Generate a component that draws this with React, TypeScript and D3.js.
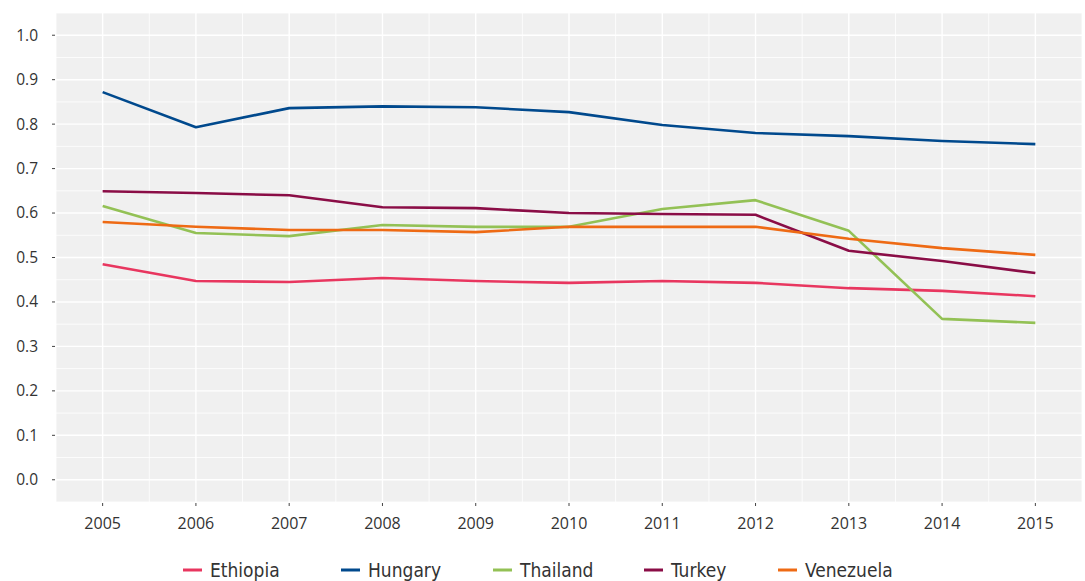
import * as d3 from "d3";
import React from "react";

const years = [2005, 2006, 2007, 2008, 2009, 2010, 2011, 2012, 2013, 2014, 2015];
const countries = ["Ethiopia", "Hungary", "Thailand", "Turkey", "Venezuela"];
const colors = ["#e8365f", "#00498d", "#93c155", "#8a0d46", "#ee6a14"];

const ethiopia = [0.485, 0.447, 0.445, 0.454, 0.447, 0.443, 0.447, 0.443, 0.431, 0.425, 0.413];
const hungary = [0.872, 0.793, 0.836, 0.84, 0.838, 0.827, 0.798, 0.78, 0.773, 0.762, 0.755];
const thailand = [0.616, 0.555, 0.548, 0.573, 0.569, 0.569, 0.609, 0.629, 0.56, 0.362, 0.353];
const turkey = [0.649, 0.645, 0.64, 0.613, 0.611, 0.6, 0.598, 0.596, 0.515, 0.492, 0.465];
const venezuela = [0.58, 0.569, 0.562, 0.562, 0.557, 0.569, 0.569, 0.569, 0.542, 0.521, 0.506];

const yTicks = [0, 0.1, 0.2, 0.3, 0.4, 0.5, 0.6, 0.7, 0.8, 0.9, 1.0];

const series = [ethiopia, hungary, thailand, turkey, venezuela];

export default function App() {
  const width = 1085;
  const height = 581;
  const margin = { top: 13, right: 3, bottom: 79, left: 56 };
  const innerW = width - margin.left - margin.right;
  const innerH = height - margin.top - margin.bottom;

  const x = d3.scaleLinear().domain([2004.5, 2015.5]).range([0, innerW]);
  const y = d3.scaleLinear().domain([-0.05, 1.05]).range([innerH, 0]);

  const line = d3
    .line<number>()
    .x((_, i) => x(years[i]))
    .y((d) => y(d));

  const minorY = d3.range(-0.05, 1.06, 0.1);
  const minorX = d3.range(2004.5, 2015.6, 1);

  const font = "'Open Sans', sans-serif";
  const legendX = [183, 341, 493, 644, 778];

  return (
    <svg width={width} height={height} style={{ position: "absolute", left: 0, top: 0 }}>
      <g transform={`translate(${margin.left},${margin.top})`}>
        <rect width={innerW} height={innerH} fill="#f0f0f0" />
        {minorY.map((v, i) => (
          <line key={"my" + i} x1={0} x2={innerW} y1={y(v)} y2={y(v)} stroke="#fff" strokeWidth={0.8} />
        ))}
        {minorX.map((v, i) => (
          <line key={"mx" + i} y1={0} y2={innerH} x1={x(v)} x2={x(v)} stroke="#fff" strokeWidth={0.8} />
        ))}
        {yTicks.map((v) => (
          <g key={"y" + v}>
            <line x1={0} x2={innerW} y1={y(v)} y2={y(v)} stroke="#fff" strokeWidth={1.4} />
            <line x1={-4} x2={-1} y1={y(v)} y2={y(v)} stroke="#444" strokeWidth={1} />
            <text
              x={-18}
              y={y(v)}
              dy="0.35em"
              textAnchor="end"
              fontFamily={font}
              fontSize={15.5}
              fill="#333"
            >
              {d3.format(".1f")(v)}
            </text>
          </g>
        ))}
        {years.map((v) => (
          <g key={"x" + v}>
            <line y1={0} y2={innerH} x1={x(v)} x2={x(v)} stroke="#fff" strokeWidth={1.4} />
            <line y1={innerH + 1} y2={innerH + 4} x1={x(v)} x2={x(v)} stroke="#444" strokeWidth={1} />
            <text
              x={x(v)}
              y={innerH + 27}
              textAnchor="middle"
              fontFamily={font}
              fontSize={16}
              fill="#333"
            >
              {v}
            </text>
          </g>
        ))}
        {series.map((s, i) => (
          <path
            key={countries[i]}
            d={line(s) ?? ""}
            fill="none"
            stroke={colors[i]}
            strokeWidth={2.6}
            strokeLinejoin="round"
          />
        ))}
      </g>
      <g>
        {countries.map((c, i) => (
          <g key={"lg" + c} transform={`translate(${legendX[i]},570)`}>
            <line x1={0} x2={19} y1={0} y2={0} stroke={colors[i]} strokeWidth={3} />
            <text
              x={27}
              y={0}
              dy="0.35em"
              fontFamily="'DejaVu Sans Condensed', 'DejaVu Sans', sans-serif"
              fontSize={19}
              fill="#333"
              style={{ fontStretch: "condensed" }}
            >
              {c}
            </text>
          </g>
        ))}
      </g>
    </svg>
  );
}
